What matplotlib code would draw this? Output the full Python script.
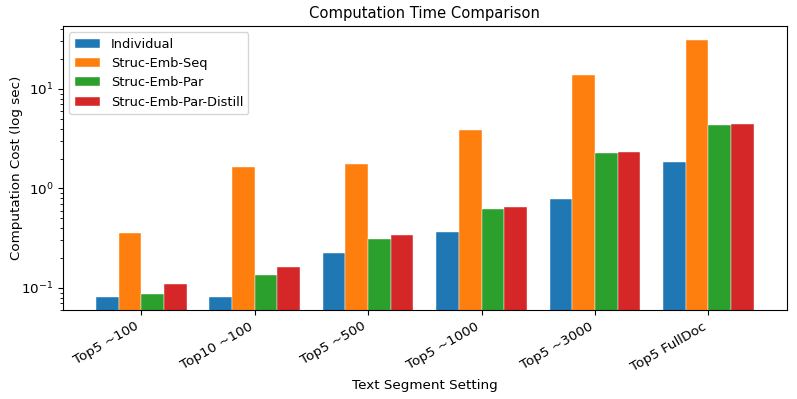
import numpy as np
import matplotlib
matplotlib.use("Agg")
import matplotlib.pyplot as plt

settings = ["Top5 ~100", "Top10 ~100", "Top5 ~500", "Top5 ~1000", "Top5 ~3000", "Top5 FullDoc"]
methods = ["Individual", "Struc-Emb-Seq", "Struc-Emb-Par", "Struc-Emb-Par-Distill"]
individual = [0.081, 0.081, 0.222, 0.361, 0.79, 1.83]
emb_seq = [0.357, 1.66, 1.78, 3.83, 13.7, 31.4]
emb_par = [0.087, 0.135, 0.307, 0.615, 2.25, 4.3]
emb_par_distill = [0.11, 0.163, 0.337, 0.644, 2.3, 4.4]

series = [individual, emb_seq, emb_par, emb_par_distill]
colors = ["#1f77b4", "#ff7f0e", "#2ca02c", "#d62728"]

plt.rcParams["font.size"] = 9.7
fig, ax = plt.subplots(figsize=(7.97, 3.99), dpi=100)
plt.subplots_adjust(left=0.079, right=0.987, top=0.935, bottom=0.223)

x = np.arange(len(settings))
w = 0.2
for i, (vals, name) in enumerate(zip(series, methods)):
    ax.bar(x + (i - 1.5) * w, vals, w, label=name, color=colors[i],
           edgecolor="white", linewidth=0.3)

ax.set_yscale("log")
ax.set_ylim(0.06, 43)
ax.set_xticks(x)
ax.set_xticklabels(settings, rotation=30, ha="right")
ax.set_xlabel("Text Segment Setting")
ax.set_ylabel("Computation Cost (log sec)")
ax.yaxis.set_label_coords(-0.055, 0.5)
ax.set_title("Computation Time Comparison", fontsize=10.6)
ax.legend(loc="upper left", fontsize=9.3)

fig.savefig("out.png")
